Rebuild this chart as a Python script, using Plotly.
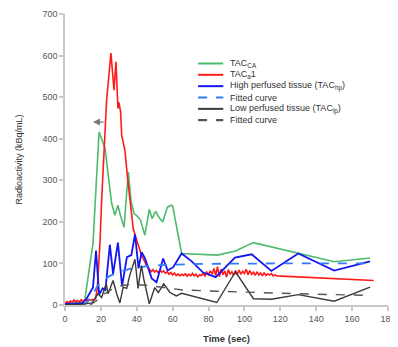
import plotly.graph_objects as go

# ---- data ----
green_t = [0, 2, 4, 6, 8, 10, 11, 13, 15.6, 17, 19, 22.3, 26, 27.8, 29.5, 30.6, 32.9, 35.3, 36.8, 38.5, 40, 42, 44.5,
           47, 48.5, 50.5, 52.5, 54.5, 57, 59, 60, 65, 85, 95, 105, 150, 170]
green_y = [4, 6, 5, 7, 6, 8, 12, 70, 148, 260, 416, 377, 244, 216, 240, 220, 187, 320, 250, 220, 215, 205, 168,
           230, 208, 225, 210, 200, 235, 240, 238, 124, 120, 130, 150, 104, 113]

red_t = list(range(0, 18)) + [18, 19.5, 20.5, 23.2, 25.6, 27.3, 28.4, 29.5, 30, 31, 31.6, 33.4, 35, 36.5, 38, 40,
                              42.7, 45.5] + list(range(47, 119)) + [172]
red_y = [3, 8, 5, 10, 6, 12, 8, 11, 7, 13, 9, 12, 10, 14, 11, 13, 12, 15] + \
        [40, 150, 260, 493, 606, 517, 585, 473, 488, 464, 408, 372, 300, 235, 184, 155, 119, 95] + \
        [86, 80, 85, 79, 83, 77, 84, 79, 82, 76,
         80, 74, 78, 72, 77, 71, 75, 70, 74, 71,
         75, 69, 74, 70, 76, 70, 74, 68, 73, 71,
         76, 70, 79, 73, 82, 74, 88, 71, 92, 68,
         86, 73, 82, 67, 85, 74, 80, 71, 83, 73,
         84, 74, 81, 76, 86, 73, 83, 74, 79, 71,
         80, 72, 77, 70, 78, 71, 75, 72, 76, 70,
         73, 70] + [59]

blue_t = [0, 2, 4, 6, 8, 10, 12, 14, 15.6, 17.3, 19, 21, 22.5, 25, 26.8, 29.5, 31.8, 34.5, 37, 39, 41, 42.7, 44.6,
          48.3, 51, 54.7, 57.2, 60.3, 65, 70.6, 77, 84, 94.7, 104, 115, 130, 150, 170]
blue_y = [2, 3, 2, 4, 3, 5, 15, 30, 42, 131, 25, 40, 35, 145, 75, 150, 45, 115, 120, 170, 88, 127, 112,
          64, 55, 112, 83, 91, 124, 105, 78, 67, 114, 122, 82, 124, 83, 105]

bfit_t = [10, 12, 14, 16, 18, 20, 22, 25, 28, 32, 36, 40, 45, 50, 60, 80, 100, 120, 140, 170]
bfit_y = [0, 5, 15, 30, 45, 55, 62, 70, 76, 82, 87, 90, 93, 95, 97, 99, 100, 100, 100, 100]

black_t = [0, 5, 10, 15, 18.4, 20.4, 23, 24, 26.8, 28.8, 30.6, 32.4, 34.4, 36, 39, 40.7, 42.6, 44, 47, 50, 52, 55,
           58.5, 62, 65, 84.6, 95, 105, 115, 130, 150, 170]
black_y = [0, 1, 2, 5, 27, 18, 51, 27, 59, 27, 5, 43, 40, 70, 110, 40, 95, 60, 3, 42, 30, 51,
           30, 22, 28, 6, 80, 15, 14, 25, 9, 43]

kfit_t = [14, 16, 18, 20, 22, 25, 28, 32, 36, 40, 47, 55, 66, 86, 105, 130, 150, 170]
kfit_y = [0, 5, 12, 20, 27, 35, 42, 47, 49, 49, 47, 42, 36, 33, 30, 27, 25, 23]

x_ticks = [0, 20, 40, 60, 80, 100, 120, 140, 160, 180]
y_ticks = [0, 100, 200, 300, 400, 500, 600, 700]

names = ["TAC<sub>CA</sub>", "TAC<sub>a</sub>1", "High perfused tissue (TAC<sub>hp</sub>)", "Fitted curve",
         "Low perfused tissue (TAC<sub>lp</sub>)", "Fitted curve"]
colors = ["#4cbb6c", "#ff1a1a", "#1515f0", "#2f7cf6", "#3a3a3a", "#555555"]
dashes = ["solid", "solid", "solid", "dash", "solid", "dash"]
widths = [1.6, 1.6, 1.8, 1.8, 1.4, 1.4]
series = [(green_t, green_y), (red_t, red_y), (blue_t, blue_y), (bfit_t, bfit_y), (black_t, black_y),
          (kfit_t, kfit_y)]

fig = go.Figure()
for (xs, ys), nm, c, d, w in zip(series, names, colors, dashes, widths):
    fig.add_trace(go.Scatter(x=xs, y=ys, mode="lines", name=nm, showlegend=False,
                             line=dict(color=c, width=w, dash=d)))

fig.add_annotation(x=15.6, y=440, ax=22.3, ay=440, xref="x", yref="y", axref="x", ayref="y",
                   text="", showarrow=True, arrowhead=2, arrowsize=1, arrowwidth=1.4, arrowcolor="#777777")

# compact legend (paper coordinates)
leg_x0, leg_x1, leg_tx = 0.412, 0.49, 0.505
leg_y0, leg_dy = 0.83, 0.039
for i, (nm, c, d, w) in enumerate(zip(names, colors, dashes, widths)):
    yy = leg_y0 - i * leg_dy
    fig.add_shape(type="line", xref="paper", yref="paper", x0=leg_x0, x1=leg_x1, y0=yy, y1=yy,
                  line=dict(color=c, width=2 if d == "solid" else 2.2, dash=d))
    fig.add_annotation(xref="paper", yref="paper", x=leg_tx, y=yy, text=nm, showarrow=False,
                       xanchor="left", yanchor="middle", font=dict(size=9, color="#333333"))

axis_common = dict(showgrid=False, zeroline=False, showline=True, linecolor="#c8c8c8", linewidth=1.5,
                   ticks="outside", ticklen=4, tickcolor="#c8c8c8", tickwidth=1.5, automargin=False,
                   tickfont=dict(size=9, color="#555555"))

fig.update_layout(
    width=390, height=339,
    margin=dict(l=57, r=10, t=6, b=42),
    paper_bgcolor="white", plot_bgcolor="white",
    font=dict(family="Arial, Liberation Sans, sans-serif", size=9, color="#333333"),
    xaxis=dict(range=[0, 180], tickvals=x_ticks, **axis_common,
               title=dict(text="<b>Time (sec)</b>", font=dict(size=9.5, color="#333333"), standoff=13)),
    yaxis=dict(range=[0, 700], tickvals=y_ticks, **axis_common,
               title=dict(text="Radioactivity (kBq/mL)", font=dict(size=9, color="#333333"), standoff=18)),
    showlegend=False,
)

fig.write_html("out.html")
